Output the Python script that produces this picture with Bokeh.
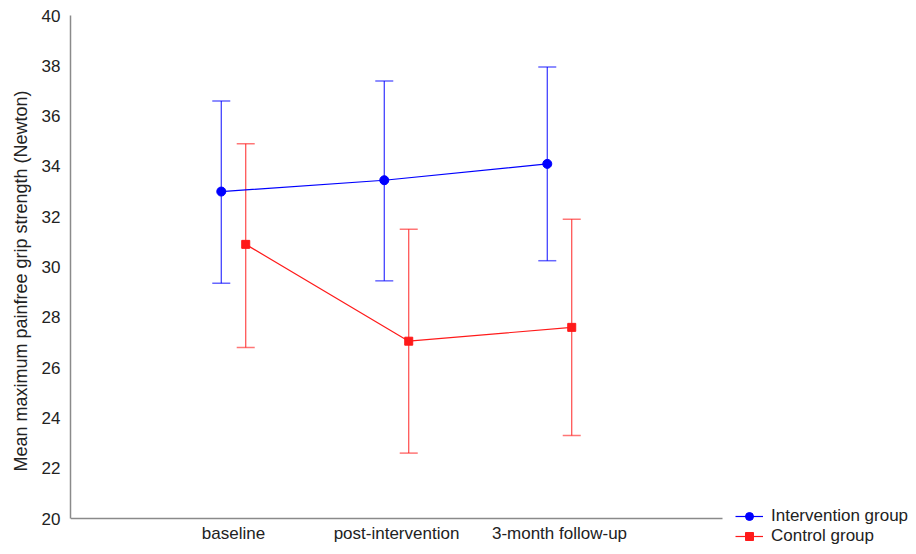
from bokeh.plotting import figure
from bokeh.models import (ColumnDataSource, Whisker, TeeHead, Legend, LegendItem,
                          FixedTicker, Range1d)
from bokeh.embed import file_html
from bokeh.resources import INLINE

categories = ["baseline", "post-intervention", "3-month follow-up"]
interv_mean = [33.0, 33.45, 34.1]
interv_upper = [36.6, 37.4, 37.95]
interv_lower = [29.35, 29.45, 30.25]
ctrl_mean = [30.9, 27.05, 27.6]
ctrl_upper = [34.9, 31.5, 31.9]
ctrl_lower = [26.8, 22.6, 23.3]
y_ticks = list(range(20, 41, 2))

pos = [i + 1 for i in range(len(categories))]
off = 0.075

font = "Liberation Sans"
W, H = 908, 546
left, top = 70, 15
# frame: x 0..4 spans 652px, y 20..40 spans 503px
px_x = 652 / 4
px_y = 503 / 20
x_end = 4 + (W - left - 652) / px_x
y_start = 20 - (H - top - 503) / px_y

p = figure(width=W, height=H, output_backend="svg", toolbar_location=None,
           x_range=Range1d(0, x_end), y_range=Range1d(y_start, 40),
           min_border_left=left, min_border_right=0, min_border_top=top,
           min_border_bottom=0)
p.grid.visible = False
p.outline_line_color = None

src_i = ColumnDataSource(dict(x=[v - off for v in pos], y=interv_mean,
                              up=interv_upper, lo=interv_lower))
src_c = ColumnDataSource(dict(x=[v + off for v in pos], y=ctrl_mean,
                              up=ctrl_upper, lo=ctrl_lower))

blue = "#0000ff"
red = "#ff1a1a"

for src, col in ((src_i, blue), (src_c, red)):
    w = Whisker(source=src, base="x", upper="up", lower="lo", dimension="height",
                line_color=col, line_width=1.2, line_alpha=0.8,
                upper_head=TeeHead(size=18, line_color=col, line_width=1.5, line_alpha=0.6),
                lower_head=TeeHead(size=18, line_color=col, line_width=1.5, line_alpha=0.6))
    p.add_layout(w)

li = p.line("x", "y", source=src_i, line_color=blue, line_width=1.2)
mi = p.scatter("x", "y", source=src_i, marker="circle", size=9, color=blue)
lc = p.line("x", "y", source=src_c, line_color=red, line_width=1.2)
mc = p.scatter("x", "y", source=src_c, marker="square", size=8, color=red)

p.xaxis.ticker = FixedTicker(ticks=pos)
p.xaxis.major_label_overrides = {v: c for v, c in zip(pos, categories)}
p.xaxis.fixed_location = 20
p.xaxis.bounds = (0, 4)
p.yaxis.ticker = FixedTicker(ticks=y_ticks)
p.yaxis.bounds = (20, 40)

for ax in (p.xaxis[0], p.yaxis[0]):
    ax.axis_line_color = "#8a8a8a"
    ax.axis_line_width = 1.5
    ax.major_tick_line_color = None
    ax.minor_tick_line_color = None
    ax.major_tick_out = 0
    ax.major_tick_in = 0
    ax.minor_tick_out = 0
    ax.major_label_text_font = font
    ax.major_label_text_font_size = "17px"
    ax.major_label_text_color = "#222222"
p.xaxis.major_label_standoff = 5
p.yaxis.major_label_standoff = 10

p.yaxis.axis_label = "Mean maximum painfree grip strength (Newton)"
p.yaxis.axis_label_text_font = font
p.yaxis.axis_label_text_font_size = "18px"
p.yaxis.axis_label_text_font_style = "normal"
p.yaxis.axis_label_text_color = "#222222"
p.yaxis.axis_label_standoff = 8

legend = Legend(items=[LegendItem(label="Intervention group", renderers=[li, mi]),
                       LegendItem(label="Control group", renderers=[lc, mc])],
                location=(665, 0), orientation="vertical",
                label_text_font=font, label_text_font_size="17px",
                label_text_color="#222222",
                glyph_width=28, glyph_height=20, label_height=20,
                label_standoff=8, spacing=0, padding=0, margin=0,
                border_line_color=None, background_fill_alpha=0)
p.add_layout(legend, "center")

open("out.html", "w").write(file_html(p, INLINE))
